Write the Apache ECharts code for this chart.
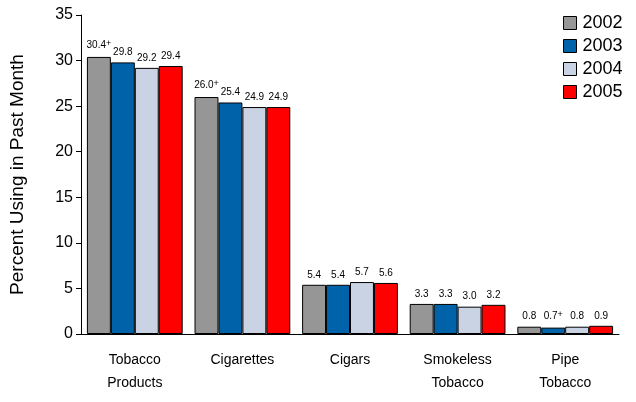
<!DOCTYPE html>
<html><head><meta charset="utf-8">
<script src="https://cdn.jsdelivr.net/npm/echarts@6/dist/echarts.min.js"></script>
<style>html,body{margin:0;padding:0;background:#fff}#c{width:636px;height:402px}</style>
</head><body><div id="c"></div>
<script>
const categories = ['Tobacco\nProducts', 'Cigarettes', 'Cigars', 'Smokeless\nTobacco', 'Pipe\nTobacco'];
const years = ['2002', '2003', '2004', '2005'];
const v2002 = [30.4, 26.0, 5.4, 3.3, 0.8];
const v2003 = [29.8, 25.4, 5.4, 3.3, 0.7];
const v2004 = [29.2, 24.9, 5.7, 3.0, 0.8];
const v2005 = [29.4, 24.9, 5.6, 3.2, 0.9];
const mark2002 = [true, true, false, false, false];
const mark2003 = [false, false, false, false, true];
const mark2004 = [false, false, false, false, false];
const mark2005 = [false, false, false, false, false];
const yTicks = [0, 5, 10, 15, 20, 25, 30, 35];

const colors = ['#969696', '#0063AA', '#C9D3E4', '#FF0000'];
const allVals = [v2002, v2003, v2004, v2005];
const allMarks = [mark2002, mark2003, mark2004, mark2005];
const font = 'Liberation Sans, Arial, sans-serif';

const series = years.map((y, i) => ({
  name: y,
  type: 'bar',
  barGap: '0%',
  barCategoryGap: '11%',
  itemStyle: { color: colors[i], borderColor: '#000', borderWidth: 1 },
  data: allVals[i].map((v, j) => ({ value: v })),
  label: {
    show: true, position: 'top', distance: 5,
    fontFamily: font, fontSize: 10, color: '#000',
    formatter: p => p.value.toFixed(1) + (allMarks[i][p.dataIndex] ? '{s|+}' : ''),
    rich: { s: { fontFamily: font, fontSize: 9, verticalAlign: 'top', padding: [0, 0, 4, 0] } }
  }
}));

const chart = echarts.init(document.getElementById('c'), null, { renderer: 'canvas' });
chart.setOption({
  animation: false,
  color: colors,
  grid: { left: 81, right: 17, top: 15, bottom: 68, containLabel: false },
  legend: {
    orient: 'vertical', left: 558, top: 9,
    itemWidth: 13, itemHeight: 13, itemGap: 5,
    icon: 'rect',
    itemStyle: { borderColor: '#000', borderWidth: 1 },
    textStyle: { fontFamily: font, fontSize: 18, color: '#000', padding: [0, 0, 0, 1] },
    data: years
  },
  xAxis: {
    type: 'category', data: categories,
    axisLine: { lineStyle: { color: '#000', width: 1 } },
    axisTick: { show: false },
    axisLabel: { fontFamily: font, fontSize: 14, color: '#000', margin: 15, lineHeight: 23 }
  },
  yAxis: {
    type: 'value', min: 0, max: 35, interval: 5,
    name: 'Percent Using in Past Month', nameLocation: 'middle', nameGap: 54,
    nameTextStyle: { fontFamily: font, fontSize: 19, color: '#000' },
    axisLine: { show: true, lineStyle: { color: '#000', width: 1 } },
    axisTick: { show: true, length: 5, lineStyle: { color: '#000' } },
    splitLine: { show: false },
    axisLabel: { fontFamily: font, fontSize: 16, color: '#000', margin: 8,
      formatter: v => yTicks.includes(v) ? String(v) : '' }
  },
  series
});
</script></body></html>
